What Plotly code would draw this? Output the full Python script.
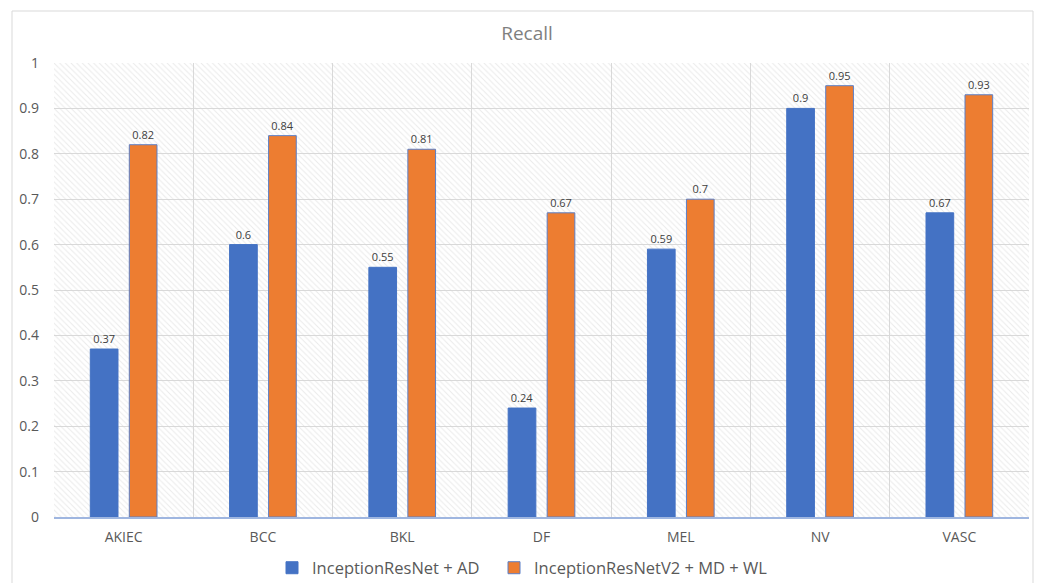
import plotly.graph_objects as go

categories = ["AKIEC", "BCC", "BKL", "DF", "MEL", "NV", "VASC"]
series1_name = "InceptionResNet + AD"
series1 = [0.37, 0.6, 0.55, 0.24, 0.59, 0.9, 0.67]
series2_name = "InceptionResNetV2 + MD + WL"
series2 = [0.82, 0.84, 0.81, 0.67, 0.7, 0.95, 0.93]
y_ticks = [0, 0.1, 0.2, 0.3, 0.4, 0.5, 0.6, 0.7, 0.8, 0.9, 1]
y_ticktext = ["0", "0.1", "0.2", "0.3", "0.4", "0.5", "0.6", "0.7", "0.8", "0.9", "1"]

W, H = 1044, 583
ml, mr, mt, mb = 54, 15, 63, 66
pw, ph = W - ml - mr, H - mt - mb

fig = go.Figure()

# hatched plot-area background (on base axes, drawn beneath the data)
fig.add_trace(go.Bar(
    x=[0.5], y=[1], width=[1], xaxis="x", yaxis="y",
    marker=dict(color="rgba(0,0,0,0)", line=dict(width=0),
                pattern=dict(shape="\\", fgcolor="#d6d6d6", bgcolor="rgba(0,0,0,0)",
                             size=4, solidity=0.25)),
    showlegend=False, hoverinfo="skip",
))

fig.add_trace(go.Bar(
    name=series1_name, x=categories, y=series1, xaxis="x2", yaxis="y2",
    marker=dict(color="#4472C4", line=dict(color="#4472C4", width=1)),
    text=[f"{v:g}" for v in series1], textposition="outside",
    textfont=dict(size=11, color="#404040", family="Open Sans"),
    cliponaxis=False, legend="legend",
))
fig.add_trace(go.Bar(
    name=series2_name, x=categories, y=series2, xaxis="x2", yaxis="y2",
    marker=dict(color="#ED7D31", line=dict(color="#5B7FC7", width=1)),
    text=[f"{v:g}" for v in series2], textposition="outside",
    textfont=dict(size=11, color="#404040", family="Open Sans"),
    cliponaxis=False, legend="legend2",
))

legend_y = -(568 - 517) / ph
fig.update_layout(
    width=W, height=H,
    margin=dict(l=ml, r=mr, t=mt, b=mb, pad=0, autoexpand=False),
    paper_bgcolor="white", plot_bgcolor="white",
    font=dict(family="Open Sans", color="#595959"),
    title=dict(text="Recall", x=527 / W, xanchor="center", y=1 - 33 / H, yanchor="middle",
               font=dict(size=19, color="#7f7f7f", family="Open Sans")),
    barmode="group", bargap=0.44, bargroupgap=0.29,
    xaxis=dict(range=[0, 1], visible=False, fixedrange=True),
    yaxis=dict(range=[0, 1], visible=False, fixedrange=True),
    xaxis2=dict(overlaying="x", type="category", showgrid=True, gridcolor="#d9d9d9",
                gridwidth=1, tickson="boundaries", ticks="", showline=True,
                linecolor="#9fb6e0", linewidth=1.5, automargin=False,
                tickfont=dict(size=14, color="#595959"), ticklabelstandoff=6),
    yaxis2=dict(overlaying="y", range=[0, 1], tickvals=y_ticks, ticktext=y_ticktext,
                showgrid=True, gridcolor="#d9d9d9", gridwidth=1, zeroline=False,
                ticks="", showline=False, tickfont=dict(size=14, color="#595959"),
                ticklabelstandoff=14, automargin=False),
    legend=dict(orientation="h", x=(272 - ml) / pw, xanchor="left",
                y=legend_y, yanchor="middle",
                font=dict(size=16.5, color="#595959"), itemwidth=30),
    legend2=dict(orientation="h", x=(494 - ml) / pw, xanchor="left",
                 y=legend_y, yanchor="middle",
                 font=dict(size=16.5, color="#595959"), itemwidth=30),
    showlegend=True,
)

# chart-area border
fig.add_shape(type="rect", xref="paper", yref="paper",
              x0=(12 - ml) / pw, x1=(1033 - ml) / pw,
              y0=-(H + 20 - mt - ph) / ph, y1=(ph + mt - 11) / ph,
              line=dict(color="#d9d9d9", width=1), fillcolor="rgba(0,0,0,0)", layer="below")

fig.write_html("out.html", config={"displayModeBar": False},
               post_script="document.body.style.margin='0';")
